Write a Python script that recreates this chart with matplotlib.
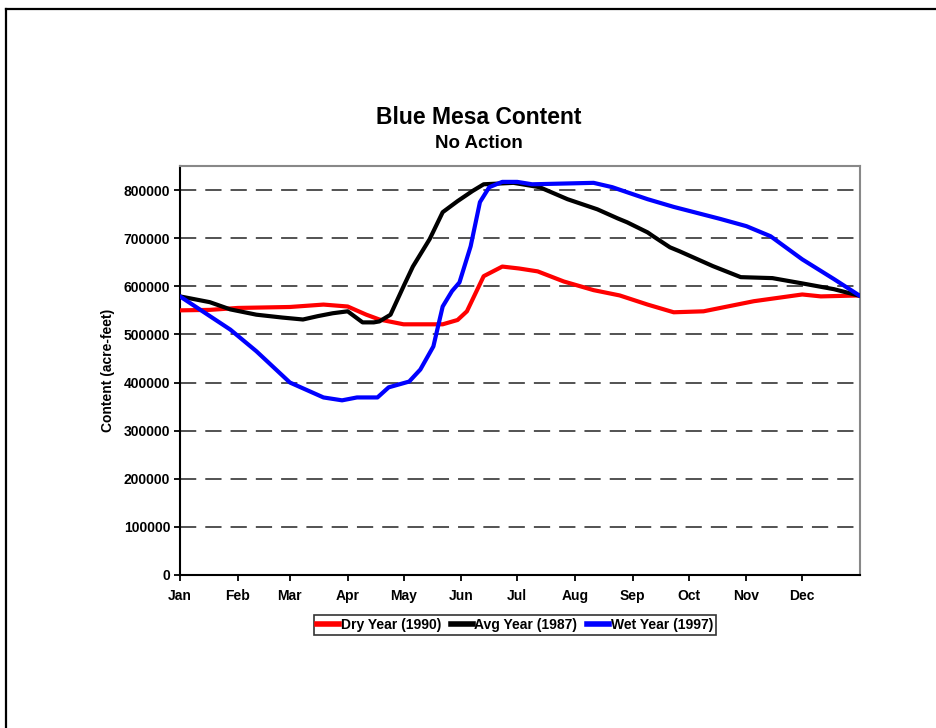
import numpy as np
import matplotlib
matplotlib.use("Agg")
import matplotlib.pyplot as plt
from matplotlib.lines import Line2D

plt.rcParams["font.family"] = ["Liberation Sans", "DejaVu Sans"]
plt.rcParams["font.weight"] = "bold"

# day of year (0 = Jan 1) and reservoir content (acre-feet)
dry_days = [0, 16, 31, 59, 77, 90, 100, 107, 120, 141, 149, 154, 163, 173, 182,
            192, 206, 222, 236, 251, 265, 281, 308, 334, 344, 365]
dry_vals = [550000, 551000, 555000, 557000, 562000, 558000, 541000, 531000, 521000,
            521000, 530000, 548000, 621000, 641000, 637000, 631000, 610000, 592000,
            581000, 562000, 546000, 548000, 569000, 583000, 579000, 581000]

avg_days = [0, 16, 27, 41, 55, 66, 74, 82, 90, 98, 104, 107, 113, 120, 125, 134,
            141, 149, 157, 163, 179, 193, 208, 224, 235, 240, 251, 254, 263, 268,
            286, 301, 318, 334, 351, 365]
avg_vals = [579000, 567000, 552000, 541000, 535000, 531000, 538000, 544000, 548000,
            525000, 525000, 527000, 541000, 600000, 641000, 698000, 754000, 777000,
            798000, 812000, 815000, 806000, 781000, 760000, 741000, 733000, 712000,
            704000, 681000, 673000, 642000, 619000, 617000, 606000, 594000, 580000]

wet_days = [0, 27, 41, 59, 77, 87, 95, 106, 112, 123, 129, 136, 141, 146, 150,
            156, 161, 166, 173, 181, 189, 222, 232, 251, 265, 290, 304, 317, 334,
            351, 365]
wet_vals = [579000, 510000, 465000, 400000, 369000, 363000, 369000, 369000, 390000,
            402000, 427000, 475000, 558000, 590000, 608000, 683000, 775000, 806000,
            817000, 817000, 812000, 815000, 806000, 781000, 765000, 740000, 725000,
            704000, 656000, 615000, 580000]

month_starts = [0, 31, 59, 90, 120, 151, 181, 212, 243, 273, 304, 334]
month_labels = ["Jan", "Feb", "Mar", "Apr", "May", "Jun", "Jul", "Aug", "Sep",
                "Oct", "Nov", "Dec"]

W, H = 937, 728
fig = plt.figure(figsize=(W / 100, H / 100), dpi=100)
ax = fig.add_axes([180 / W, 1 - 575 / H, 680 / W, 409 / H])

ax.plot(dry_days, dry_vals, color="#ff0000", lw=3, label="Dry Year (1990)",
        solid_capstyle="round", solid_joinstyle="round", zorder=3)
ax.plot(avg_days, avg_vals, color="black", lw=3, label="Avg Year (1987)",
        solid_capstyle="round", solid_joinstyle="round", zorder=4)
ax.plot(wet_days, wet_vals, color="#0000ff", lw=3, label="Wet Year (1997)",
        solid_capstyle="round", solid_joinstyle="round", zorder=5)

ax.set_xlim(0, 365)
ax.set_ylim(0, 850000)
ax.set_yticks(np.arange(0, 800001, 100000))
ax.set_yticklabels([str(v) for v in range(0, 800001, 100000)])
ax.set_xticks(month_starts)
ax.set_xticklabels(month_labels)
for y in range(100000, 800001, 100000):
    ax.axhline(y, color="#444444", lw=1.3, ls=(0, (9, 5)), zorder=1)

for s in ("left", "bottom"):
    ax.spines[s].set_color("black")
    ax.spines[s].set_linewidth(1.5)
for s in ("top", "right"):
    ax.spines[s].set_color("#888888")
    ax.spines[s].set_linewidth(1.5)
ax.tick_params(axis="both", direction="out", length=4, width=1.3, labelsize=10)
ax.tick_params(axis="y", pad=3)
ax.tick_params(axis="x", pad=6)
ax.set_ylabel("Content (acre-feet)", fontsize=10, fontweight="bold", labelpad=6)

fig.text(479 / W, 1 - 118 / H, "Blue Mesa Content", ha="center", va="center",
         fontsize=16.5, fontweight="bold")
fig.text(479 / W, 1 - 143 / H, "No Action", ha="center", va="center",
         fontsize=13.5, fontweight="bold")

handles, labels = ax.get_legend_handles_labels()
handles = [Line2D([], [], color=h.get_color(), lw=4) for h in handles]
leg = fig.legend(handles, labels, loc="center", bbox_to_anchor=(515 / W, 1 - 625 / H),
                 ncol=3, fontsize=10, handlelength=1.6, handletextpad=0.1,
                 columnspacing=0.7, borderpad=0.25, fancybox=False, frameon=True,
                 edgecolor="black", shadow=False)
leg.get_frame().set_linewidth(1.2)

# page border
fig.add_artist(Line2D([6 / W, 1], [1 - 9 / H, 1 - 9 / H], color="black", lw=1.6,
                      transform=fig.transFigure))
fig.add_artist(Line2D([6 / W, 6 / W], [1 - 9 / H, 0], color="black", lw=1.6,
                      transform=fig.transFigure))

fig.savefig("out.png", dpi=100)
